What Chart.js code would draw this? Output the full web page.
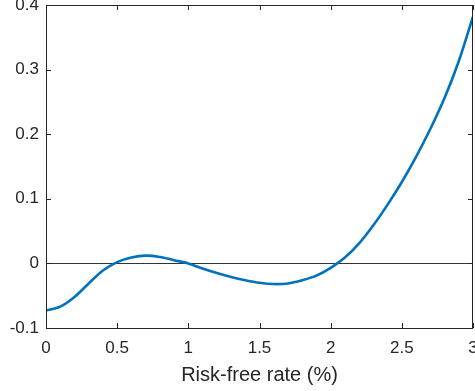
<!doctype html>
<html lang="en">
  <head>
    <meta charset="utf-8">
    <title>Risk-free rate</title>
    <style>
      * { margin: 0; padding: 0; }
      body { background: #fff; }
      .chartBox { width: 475px; height: 391px; }
    </style>
  </head>
  <body>
    <div class="chartBox">
      <canvas id="myChart" width="475" height="391"></canvas>
    </div>
    <script src="https://cdn.jsdelivr.net/npm/chart.js"></script>
    <script>
    // data
    const rates = [0, 0.1, 0.2, 0.3, 0.4, 0.5, 0.6, 0.7, 0.8, 0.9, 1.0,
                   1.1, 1.2, 1.3, 1.4, 1.5, 1.6, 1.7, 1.8, 1.9, 2.0,
                   2.1, 2.2, 2.3, 2.4, 2.5, 2.6, 2.7, 2.8, 2.9, 3.0];
    const values = [-0.073, -0.067, -0.052, -0.031, -0.011, 0.002, 0.009, 0.012, 0.010, 0.005, 0.000,
                    -0.008, -0.015, -0.021, -0.026, -0.030, -0.032, -0.031, -0.026, -0.019, -0.007,
                    0.009, 0.031, 0.059, 0.091, 0.126, 0.165, 0.208, 0.256, 0.313, 0.382];
    const xTickLabels = ['0', '0.5', '1', '1.5', '2', '2.5', '3'];
    const yTickLabels = ['-0.1', '0', '0.1', '0.2', '0.3', '0.4'];

    const axisColor = '#262626';
    const font = "'Liberation Sans', Arial, Helvetica, sans-serif";

    // box + inward ticks, matlab style
    const boxPlugin = {
      id: 'boxPlugin',
      afterDraw(chart) {
        const { ctx, chartArea: a, scales } = chart;
        const len = 5;
        ctx.save();
        ctx.strokeStyle = axisColor;
        ctx.lineWidth = 1;
        ctx.beginPath();
        scales.x.ticks.forEach(t => {
          const px = Math.round(scales.x.getPixelForValue(t.value)) + 0.5;
          ctx.moveTo(px, a.bottom); ctx.lineTo(px, a.bottom - len);
          ctx.moveTo(px, a.top); ctx.lineTo(px, a.top + len);
        });
        scales.y.ticks.forEach(t => {
          const py = Math.round(scales.y.getPixelForValue(t.value)) + 0.5;
          ctx.moveTo(a.left, py); ctx.lineTo(a.left + len, py);
          ctx.moveTo(a.right, py); ctx.lineTo(a.right - len, py);
        });
        ctx.stroke();
        ctx.strokeRect(Math.round(a.left) + 0.5, Math.round(a.top) + 0.5,
                       Math.round(a.right - a.left) - 1, Math.round(a.bottom - a.top));
        ctx.restore();
      }
    };

    const data = {
      datasets: [{
        data: rates.map((r, i) => ({ x: r, y: values[i] })),
        borderColor: '#0072BD',
        borderWidth: 2.6,
        pointRadius: 0,
        fill: false,
        tension: 0.3
      }]
    };

    const config = {
      type: 'line',
      data,
      plugins: [boxPlugin],
      options: {
        responsive: false,
        animation: false,
        devicePixelRatio: 1,
        layout: { padding: { left: 0, right: 2, top: 5, bottom: 0 } },
        plugins: { legend: { display: false }, tooltip: { enabled: false } },
        scales: {
          x: {
            type: 'linear',
            min: 0, max: 3,
            afterFit(scale) { scale.height = 63; scale.paddingLeft = 0; scale.paddingRight = 0; },
            afterBuildTicks(scale) { scale.ticks = xTickLabels.map(l => ({ value: parseFloat(l) })); },
            ticks: {
              autoSkip: false,
              maxRotation: 0,
              padding: 10,
              color: axisColor,
              font: { family: font, size: 17 },
              callback: (v, i) => xTickLabels[i]
            },
            grid: { display: false, drawTicks: false },
            border: { display: false },
            title: {
              display: true,
              text: 'Risk-free rate (%)',
              color: axisColor,
              font: { family: font, size: 20 },
              padding: { top: 0, bottom: 4 }
            }
          },
          y: {
            min: -0.1, max: 0.4,
            afterFit(scale) { scale.width = 46; scale.paddingTop = 0; scale.paddingBottom = 0; },
            afterBuildTicks(scale) { scale.ticks = yTickLabels.map(l => ({ value: parseFloat(l) })); },
            ticks: {
              autoSkip: false,
              padding: 7,
              color: axisColor,
              font: { family: font, size: 17 },
              callback: (v, i) => yTickLabels[i]
            },
            grid: {
              drawTicks: false,
              color: c => (c.tick && c.tick.value === 0) ? '#333333' : 'rgba(0,0,0,0)',
              lineWidth: 1
            },
            border: { display: false }
          }
        }
      }
    };

    const myChart = new Chart(document.getElementById('myChart'), config);
    </script>
  </body>
</html>
